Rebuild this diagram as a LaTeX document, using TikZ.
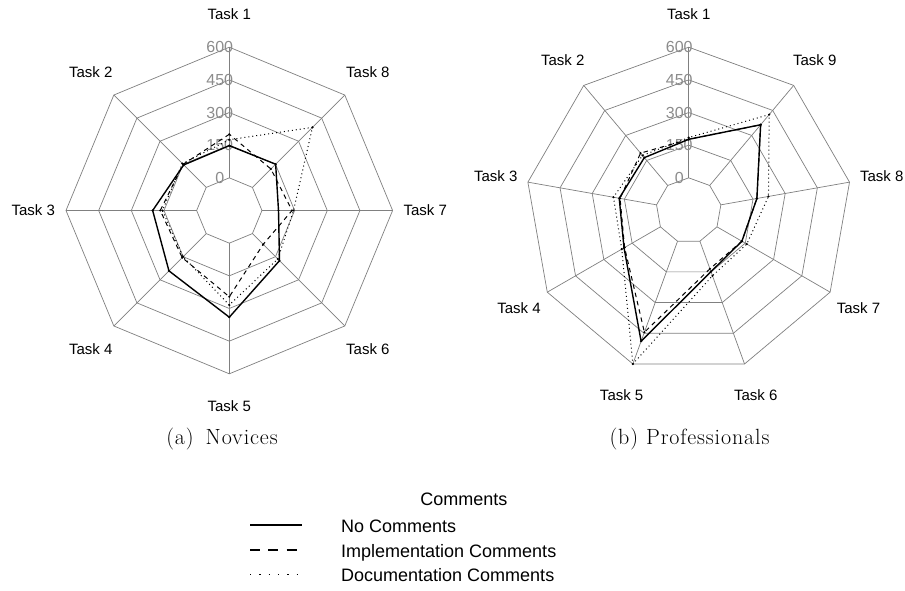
\documentclass[tikz,border=0pt]{standalone}
\usepackage{fontspec}
\setmainfont{Latin Modern Roman}
\newfontfamily\chartfont{Liberation Sans}
\newfontfamily\capfont[LetterSpace=4]{Latin Modern Roman}
\tikzset{
  gridline/.style={draw=black!50, line width=0.7pt},
  nocom/.style={draw=black, line width=1.4pt, line join=round},
  impl/.style={draw=black, line width=1pt, dash pattern=on 4.5pt off 4pt, line join=round},
  docu/.style={draw=black, line width=1pt, dash pattern=on 1pt off 3pt, line join=round},
  tasklabel/.style={font=\chartfont\fontsize{15}{18}\selectfont, inner sep=0pt},
  axlabel/.style={font=\chartfont\fontsize{16}{18}\selectfont, text=black!45, inner sep=0pt},
  legtext/.style={font=\chartfont\fontsize{18}{21}\selectfont, inner sep=0pt},
  captext/.style={font=\capfont\fontsize{22}{26}\selectfont, inner sep=0pt},
  legsolid/.style={draw=black, line width=2pt},
  legdash/.style={draw=black, line width=2pt, dash pattern=on 10pt off 8.3pt},
  legdot/.style={draw=black, line width=1.3pt, dash pattern=on 1.3pt off 8pt},
}
\newcommand\radargrid[1]{%
  \foreach \k in {1,...,5}{
    \draw[gridline] (90:{32.66*\k}) \foreach \i in {1,...,#1}{ -- ({90+\i*360/#1}:{32.66*\k}) } -- cycle;
  }
  \foreach \i in {1,...,#1} \draw[gridline] ({90+\i*360/#1}:32.66) -- ({90+\i*360/#1}:163.3);
}
\newcommand\radarline[4]{%
  \draw[#1] (90:{32.66*(1+#3/150)}) \foreach \v [count=\i] in {#4}{ -- ({90+\i*360/#2}:{32.66*(1+\v/150)}) } -- cycle;
  \foreach \v [count=\i from 0] in {#3,#4} \fill ({90+\i*360/#2}:{32.66*(1+\v/150)}) circle (1.2pt);
}
\begin{document}
\begin{tikzpicture}[x=1pt,y=-1pt]
\useasboundingbox (0,0) rectangle (905,590);
\fill[white] (0,0) rectangle (905,590);

% ---------- (a) Novices ----------
\begin{scope}[shift={(229.3,210.5)}, y=1pt]
  \radargrid{8}
  \foreach \k/\t in {1/0,2/150,3/300,4/450,5/600}
    \node[axlabel] (axa\k) at (-9.5,{32.66*\k}) {\t};
  \foreach \i in {1,...,8}
    \node[tasklabel] (ta\i) at ({90+(\i-1)*45}:196) {Task \i};
  \radarline{docu}{8}{175}{155,157,150,284,165,145,390}
  \radarline{impl}{8}{200}{150,167,156,246,70,138,120}
  \radarline{nocom}{8}{148}{146,202,242,340,176,76,151}
\end{scope}

% ---------- (b) Professionals ----------
\begin{scope}[shift={(688.7,210.5)}, y=1pt]
  \radargrid{9}
  \foreach \k/\t in {1/0,2/150,3/300,4/450,5/600}
    \node[axlabel] (axb\k) at (-9.5,{32.66*\k}) {\t};
  \foreach \i in {1,...,9}
    \node[tasklabel] (tb\i) at ({90+(\i-1)*40}:196) {Task \i};
  \radarline{docu}{9}{185}{180,201,205,600,169,158,222,425}
  \radarline{impl}{9}{177}{194,170,190,445,135,132,168,364}
  \radarline{nocom}{9}{177}{167,174,193,489,149,132,168,364}
\end{scope}

% ---------- captions ----------
\node[captext, anchor=base] (capa) at (222,444) {(a)\hspace{12pt}Novices};
\node[captext, anchor=base] (capb) at (689.5,444) {(b)\hspace{8pt}Professionals};

% ---------- legend ----------
\node[legtext, anchor=base] (legtitle) at (463.8,505) {Comments};
\coordinate (s1a) at (250,525.3); \coordinate (s1b) at (301.7,525.3);
\coordinate (s2a) at (250,549.5); \coordinate (s2b) at (301.7,549.5);
\coordinate (s3a) at (250,574.3); \coordinate (s3b) at (301.7,574.3);
\draw[legsolid] (s1a) -- (s1b);
\draw[legdash] (s2a) -- (s2b);
\draw[legdot] (s3a) -- (s3b);
\node[legtext, anchor=base west] (leg1) at (341,532.7) {No Comments};
\node[legtext, anchor=base west] (leg2) at (341,557.2) {Implementation Comments};
\node[legtext, anchor=base west] (leg3) at (341,581.7) {Documentation Comments};
\end{tikzpicture}
\end{document}
